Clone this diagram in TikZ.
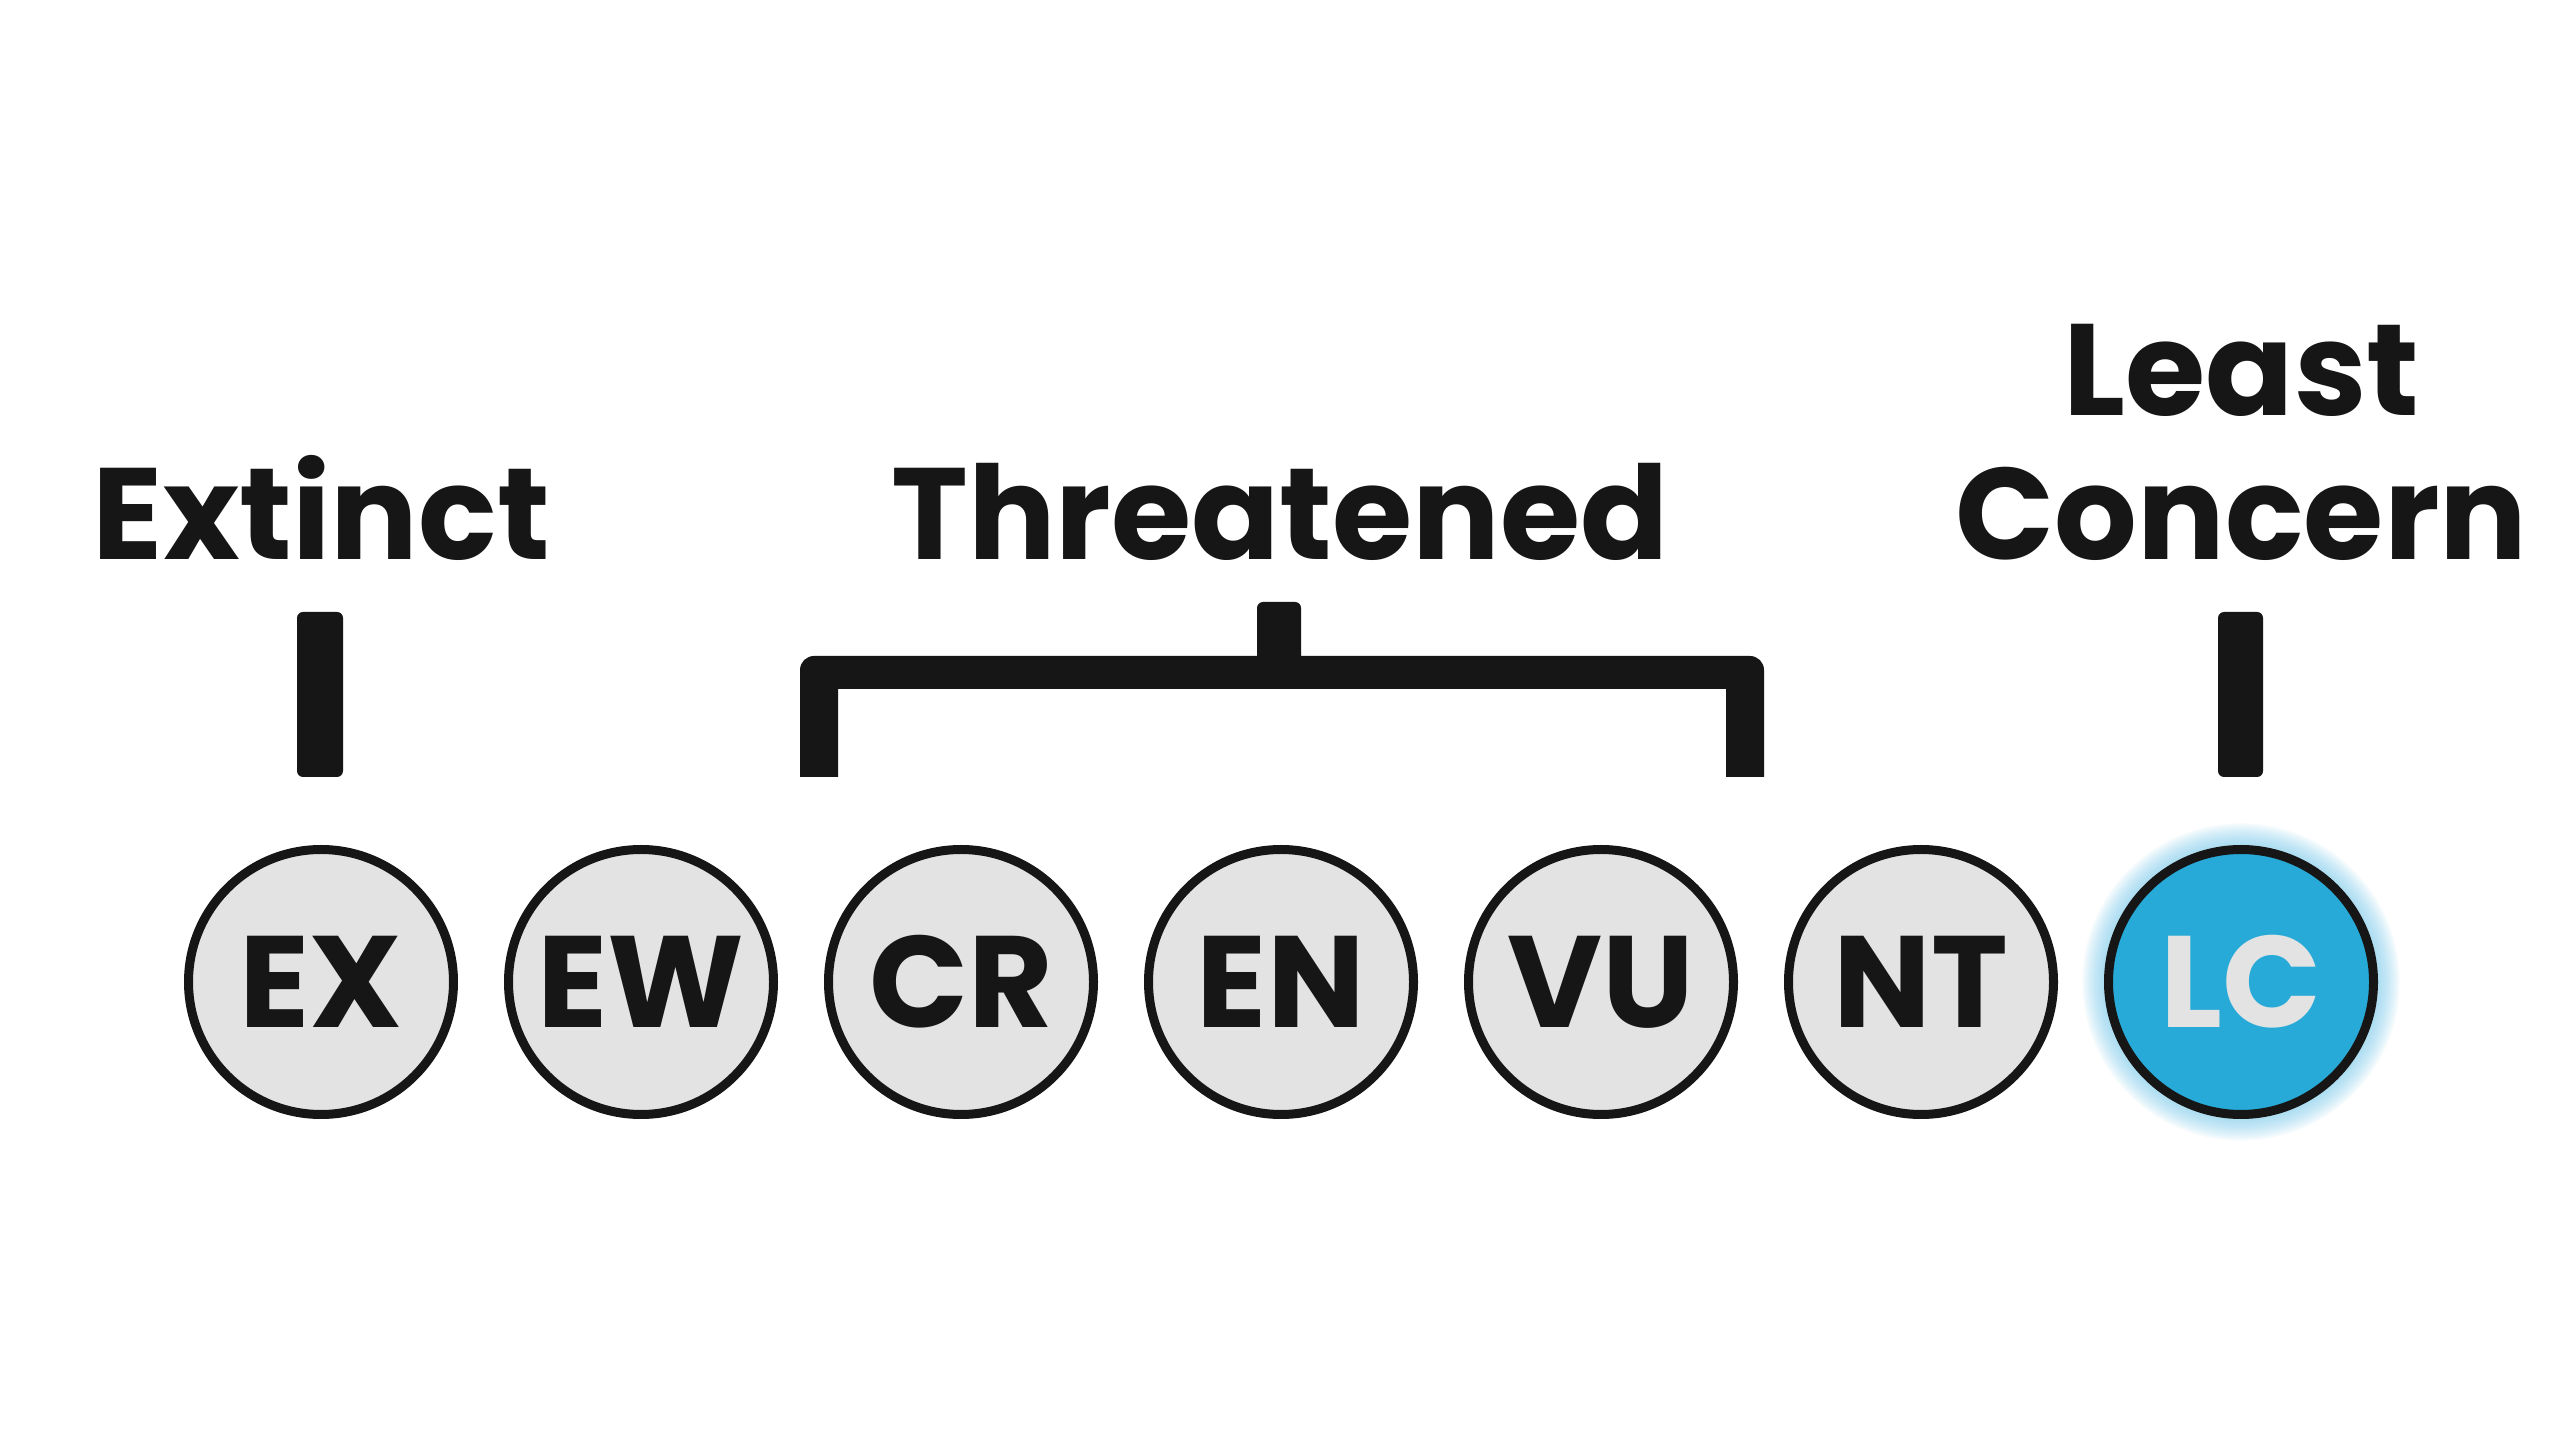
\documentclass[tikz,border=0pt]{standalone}
\usepackage{fontspec}
\setmainfont{Poppins}
\definecolor{ink}{HTML}{161616}
\definecolor{chip}{HTML}{E3E3E3}
\definecolor{lcblue}{HTML}{27AAD7}
\definecolor{glowblue}{HTML}{7CCDEE}
\begin{document}
\begin{tikzpicture}[x=1cm,y=1cm,
  badge/.style={circle, draw=ink, line width=0.09cm, fill=chip, minimum size=2.65cm,
    inner sep=0pt, font=\fontsize{37}{40}\selectfont\bfseries, text=ink},
  lcbadge/.style={badge, fill=lcblue, text=chip},
  title/.style={font=\fontsize{37}{41}\selectfont\bfseries, text=ink, inner sep=0pt, anchor=base},
  barfill/.style={fill=ink}]
\useasboundingbox (0,0) rectangle (25.6,14.4);
\fill[white] (0,0) rectangle (25.6,14.4);

% glow behind LC
\foreach \i in {1,...,12}
  \fill[glowblue, opacity=0.07] (22.41,4.58) circle ({1.37+\i*0.018});

% badges
\node[badge]   (EX) at (3.21,4.58)  {EX};
\node[badge]   (EW) at (6.41,4.58)  {EW};
\node[badge]   (CR) at (9.61,4.58)  {CR};
\node[badge]   (EN) at (12.81,4.58) {EN};
\node[badge]   (VU) at (16.01,4.58) {VU};
\node[badge]   (NT) at (19.21,4.58) {NT};
\node[lcbadge] (LC) at (22.41,4.58) {LC};

% titles
\node[title] (extinct) at (3.215,8.80) {Extinct};
\node[title] (threat) at (12.80,8.80) {Threatened};
\node[title, align=center] (least) at (22.415,8.80) {Least\\Concern};

% bars
\fill[barfill, rounded corners=0.06cm] (2.97,6.63) rectangle (3.43,8.28);
\fill[barfill, rounded corners=0.06cm] (22.18,6.63) rectangle (22.63,8.28);

% bracket
\fill[barfill] (8.00,6.63) [rounded corners=0.14cm] -- (8.00,7.84) [sharp corners] -- (12.57,7.84)
  [rounded corners=0.06cm] -- (12.57,8.38) -- (13.01,8.38) [sharp corners] -- (13.01,7.84)
  [rounded corners=0.14cm] -- (17.64,7.84) [sharp corners] -- (17.64,6.63) -- (17.26,6.63)
  -- (17.26,7.51) -- (8.38,7.51) -- (8.38,6.63) -- cycle;
\end{tikzpicture}
\end{document}
